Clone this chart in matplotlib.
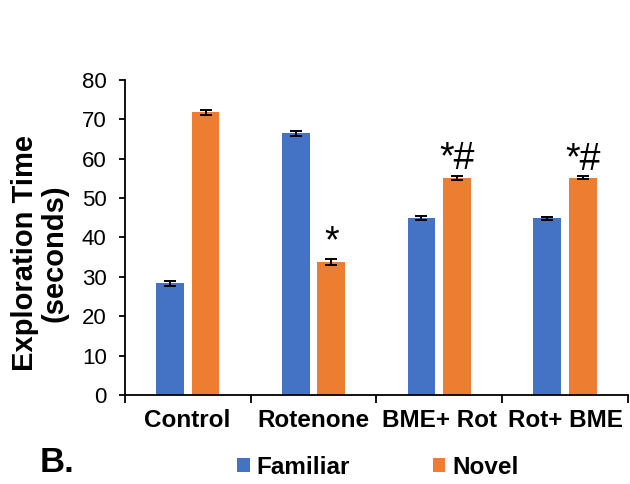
import matplotlib.pyplot as plt
import numpy as np

plt.rcParams['font.family'] = ['Liberation Sans', 'DejaVu Sans']

groups = ['Control', 'Rotenone', 'BME+ Rot', 'Rot+ BME']
familiar = [28.3, 66.4, 44.9, 44.9]
novel = [71.8, 33.8, 55.2, 55.2]
familiar_err = [0.7, 0.6, 0.6, 0.4]
novel_err = [0.6, 0.7, 0.5, 0.3]
marks = ['', '*', '*#', '*#']

blue = '#4472C4'
orange = '#ED7D31'

fig = plt.figure(figsize=(6.3, 4.84), dpi=100)
ax = fig.add_axes([0.198, 0.184, 0.799, 0.651])

x = np.arange(len(groups))
w = 0.222
off = 0.142
err_style = dict(elinewidth=1.4, capthick=1.4, ecolor='black')
ax.bar(x - off, familiar, w, color=blue, label='Familiar',
       yerr=familiar_err, capsize=4, error_kw=err_style)
ax.bar(x + off, novel, w, color=orange, label='Novel',
       yerr=novel_err, capsize=4, error_kw=err_style)

# significance marks over the novel bars
for xi, v, e, m in zip(x, novel, novel_err, marks):
    if m:
        ax.text(xi + off, v + e + 1.6, m, ha='center', va='baseline', fontsize=27)

ax.set_xlim(-0.5, len(groups) - 0.5)
ax.set_ylim(0, 80)
ax.set_yticks(np.arange(0, 81, 10))
ax.tick_params(axis='y', labelsize=16, direction='out', length=4, width=1.3, pad=9)

# category labels centred, ticks on the category boundaries
ax.set_xticks(np.arange(len(groups) + 1) - 0.5)
ax.set_xticklabels([])
ax.set_xticks(x, minor=True)
ax.set_xticklabels(groups, minor=True, fontsize=17.5, fontweight='bold')
ax.tick_params(axis='x', which='major', direction='out', length=6, width=1.3)
ax.tick_params(axis='x', which='minor', length=0, pad=10)

for s in ['top', 'right']:
    ax.spines[s].set_visible(False)
for s in ['left', 'bottom']:
    ax.spines[s].set_linewidth(1.3)

fig.text(0.063, 0.477, 'Exploration Time\n(seconds)', rotation=90, ha='center', va='center',
         fontsize=21, fontweight='bold', linespacing=1.1)

fig.legend(loc='center', bbox_to_anchor=(0.6, 0.035), ncol=2, frameon=False,
           handlelength=0.5, handleheight=0.5, handletextpad=0.3, columnspacing=3.4,
           prop=dict(size=17.5, weight='bold'))
fig.text(0.063, 0.045, 'B.', fontsize=25, fontweight='bold', va='center')

fig.savefig('out.png', dpi=100)
